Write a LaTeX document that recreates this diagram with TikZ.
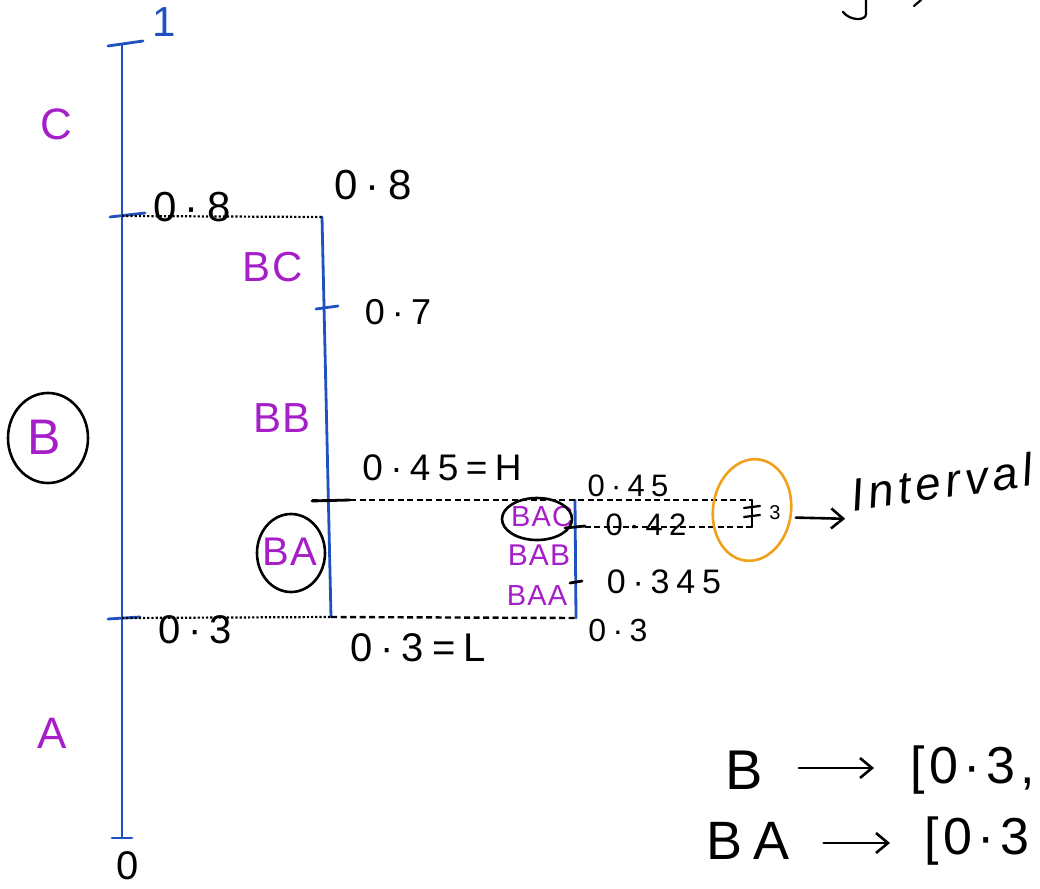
\documentclass[tikz,border=0pt]{standalone}
\usepackage{fontspec}
\setmainfont{Liberation Sans}
\newfontfamily\hand[LetterSpace=20]{Liberation Sans}
\newfontfamily\handm[LetterSpace=10]{Liberation Sans}
\newfontfamily\handl[LetterSpace=4]{Liberation Sans}
\newfontfamily\handit[LetterSpace=10]{Liberation Sans Italic}
\usetikzlibrary{shapes.geometric,arrows.meta,calc}
\definecolor{penblue}{RGB}{30,82,192}
\definecolor{penpurple}{RGB}{165,30,200}
\definecolor{penorange}{RGB}{240,160,25}
\begin{document}
\begin{tikzpicture}[x=1pt,y=-1pt,
  num/.style={font=\hand\fontsize{#1}{#1}\selectfont, inner sep=0pt, text=black},
  num/.default=40,
  note/.style={font=\handm\fontsize{#1}{#1}\selectfont, inner sep=0pt, text=black},
  lab/.style={font=\handl\fontsize{#1}{#1}\selectfont, inner sep=0pt, text=penpurple},
  lab/.default=42,
  ring/.style={draw=black, line width=2.6pt, ellipse},
  bluepen/.style={draw=penblue, line width=2.8pt, line cap=round},
  blackpen/.style={draw=black, line width=2.8pt, line cap=round},
  dotline/.style={draw=black, line width=2.2pt, dotted},
  dashline/.style={draw=black, line width=2.4pt, dash pattern=on 6pt off 3.5pt},
  arr/.style={draw=black, line width=2.6pt, line cap=round, -{Straight Barb[length=12pt,width=20pt,line width=2.6pt]}},
]
\useasboundingbox (0,0) rectangle (1040,888);
\clip (0,0) rectangle (1040,888);
% --- main axis
\coordinate (top) at (122,45);
\coordinate (bot) at (122,838);
\draw[bluepen] (top) -- (bot);
\draw[bluepen] (108,46) -- (143,41);
\draw[bluepen] (110,217) -- (145,213);
\draw[bluepen] (108,619) -- (140,617);
\draw[bluepen] (112,838) -- (132,838);
\node[font=\hand\fontsize{42}{42}\selectfont, text=penblue, inner sep=0pt] (one) at (164,22) {1};
\node[font=\fontsize{40}{40}\selectfont, inner sep=0pt] (zero) at (128,866) {0};
\node[num=42] (l08) at (192,207) {0·8};
\node[num=40] (l03) at (195,630) {0·3};
\node[lab=44] (C) at (56,124) {C};
\node[lab=50] (B) at (44,437) {B};
\node[ring, minimum width=80pt, minimum height=90pt] (Bring) at (48,438) {};
\node[lab=44] (A) at (52,733) {A};
% --- second axis
\coordinate (s1) at (322,217);
\coordinate (s2) at (331,617);
\draw[bluepen] (s1) -- (s2);
\draw[bluepen] (316,309) -- (338,306);
\draw[blackpen] (312,501) -- (350,500);
\draw[dotline] (122,216) -- (s1);
\draw[dotline] (122,618) -- (s2);
\node[num=42] (r08) at (373,185) {0·8};
\node[num=36] (r07) at (398,312) {0·7};
\node[num=37] (H) at (442,468) {0·45=H};
\node[num=40] (L) at (418,648) {0·3=L};
\node[lab=42] (BC) at (273,267) {BC};
\node[lab=42] (BB) at (282,418) {BB};
\node[lab=40] (BA) at (290,552) {BA};
\node[ring, minimum width=68pt, minimum height=78pt] (BAring) at (291,553) {};
% --- third axis
\coordinate (t1) at (575,500);
\coordinate (t2) at (576,618);
\draw[bluepen] (t1) -- (t2);
\draw[blackpen] (565,528) -- (585,526);
\draw[blackpen] (570,583) -- (582,581);
\draw[dashline] (312,500) -- (752,500);
\draw[dashline] (575,527) -- (752,527);
\draw[dashline] (s2) -- (t2);
\draw[blackpen, line width=2.2pt] (752,500) -- (752,527);
\draw[blackpen, line width=2.2pt] (744,508) -- (760,506);
\draw[blackpen, line width=2.2pt] (744,517) -- (760,515);
\node[font=\fontsize{20}{20}\selectfont, inner sep=0pt] (three) at (775,513) {3};
\node[num=31] (t045) at (628,486) {0·45};
\node[num=31] (t042) at (646,525) {0·42};
\node[num=34] (t0345) at (664,582) {0·345};
\node[num=32] (t03) at (618,630) {0·3};
\node[lab=29] (BAC) at (542,517) {BAC};
\node[ring, minimum width=70pt, minimum height=42pt] (BACring) at (537,519) {};
\node[lab=30] (BAB) at (539,555) {BAB};
\node[lab=29] (BAA) at (537,596) {BAA};
% --- interval note
\node[draw=penorange, line width=2.6pt, ellipse, minimum width=78pt, minimum height=102pt, rotate=-8] (orng) at (752,510) {};
\node[font=\handit\fontsize{46}{46}\selectfont, inner sep=0pt, rotate=8] (intv) at (942,482) {Interval};
\draw[arr] ($(orng.east)+(4,2)$) -- ($(intv.west)+(-6,24)$);
% --- bottom notes
\node[num=56] (nB) at (744,770) {B};
\node[note=52, anchor=west] (nBI) at (910,770) {[0·3,};
\draw[arr] ($(nB.east)+(36,-2)$) -- ($(nBI.west)+(-36,-2)$);
\node[num=54] (nBA) at (748,841) {BA};
\node[note=52, anchor=west] (nBAI) at (924,841) {[0·3};
\draw[arr] ($(nBA.east)+(34,2)$) -- ($(nBAI.west)+(-34,2)$);
% --- cut-off strokes at top
\draw[blackpen, line width=2.2pt] (866,0) -- (866,14) .. controls (866,21) and (850,21) .. (843,12);
\draw[blackpen, line width=2.2pt] (914,6) -- (921,0);
\end{tikzpicture}
\end{document}
